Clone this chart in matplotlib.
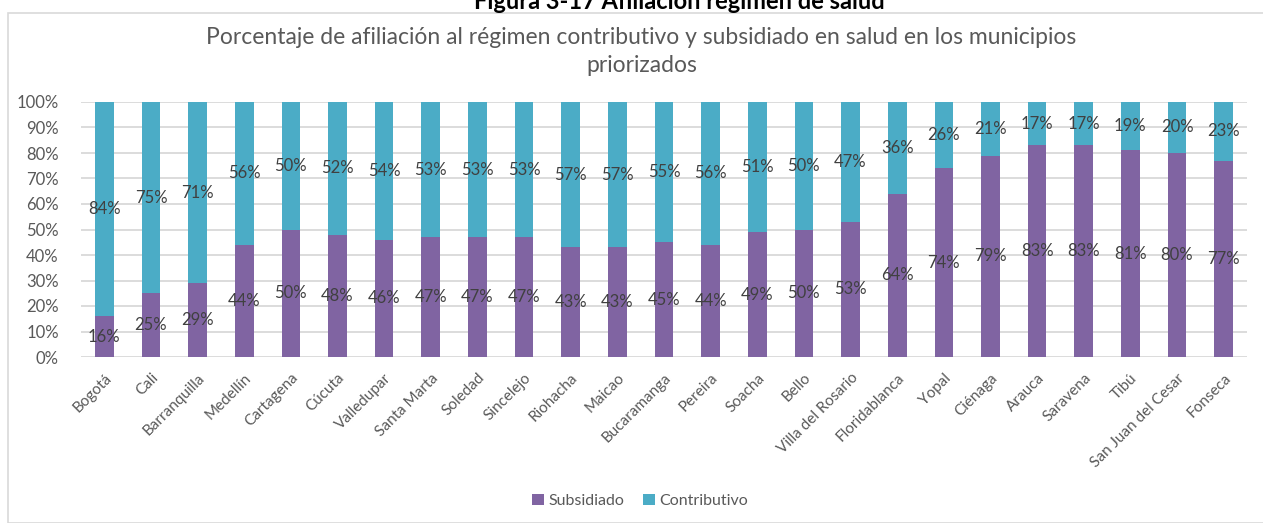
import numpy as np
import matplotlib
matplotlib.use("Agg")
import matplotlib.pyplot as plt
from matplotlib.patches import Rectangle

plt.rcParams['font.family'] = ['Lato', 'DejaVu Sans']

# datos
municipios = ['Bogotá', 'Cali', 'Barranquilla', 'Medellín', 'Cartagena', 'Cúcuta',
              'Valledupar', 'Santa Marta', 'Soledad', 'Sincelejo', 'Riohacha', 'Maicao',
              'Bucaramanga', 'Pereira', 'Soacha', 'Bello', 'Villa del Rosario',
              'Floridablanca', 'Yopal', 'Ciénaga', 'Arauca', 'Saravena', 'Tibú',
              'San Juan del Cesar', 'Fonseca']
subsidiado = [16, 25, 29, 44, 50, 48, 46, 47, 47, 47, 43, 43, 45, 44, 49, 50, 53,
              64, 74, 79, 83, 83, 81, 80, 77]
contributivo = [84, 75, 71, 56, 50, 52, 54, 53, 53, 53, 57, 57, 55, 56, 51, 50, 47,
                36, 26, 21, 17, 17, 19, 20, 23]

c_sub = '#8064a2'
c_con = '#4bacc6'
gris = '#595959'

fig = plt.figure(figsize=(12.63, 5.23), dpi=100)
W, H = 1263, 523

# marco del grafico
fig.patches.append(Rectangle((8 / W, 0), 1.2, 1 - 13 / H, transform=fig.transFigure,
                             fill=False, edgecolor='#d9d9d9', linewidth=1.2))

# titulo de la figura (cortado arriba, como en el original)
fig.text(0.538, 1 - 9 / H, 'Figura 3-17 Afiliación régimen de salud', ha='center',
         va='baseline', fontsize=17, fontweight='bold', color='black')

fig.text(0.508, 1 - 38 / H, 'Porcentaje de afiliación al régimen contributivo y subsidiado en salud en los municipios',
         ha='center', va='center', fontsize=16.5, color=gris)
fig.text(0.508, 1 - 66 / H, 'priorizados', ha='center', va='center', fontsize=16.5, color=gris)

ax = fig.add_axes([81 / W, 1 - 357 / H, (1247 - 81) / W, (357 - 102) / H])

x = np.arange(len(municipios))
sub = np.array(subsidiado)
con = np.array(contributivo)
ax.bar(x, sub, width=0.4, color=c_sub, label='Subsidiado', zorder=3)
ax.bar(x, con, width=0.4, bottom=sub, color=c_con, label='Contributivo', zorder=3)

for i in x:
    ax.text(i, sub[i] / 2, f'{sub[i]}%', ha='center', va='center', fontsize=12,
            color='#404040', zorder=4)
    ax.text(i, sub[i] + con[i] / 2, f'{con[i]}%', ha='center', va='center', fontsize=12,
            color='#404040', zorder=4)

ax.set_xlim(-0.5, len(municipios) - 0.5)
ax.set_ylim(0, 100)
ax.set_yticks(np.arange(0, 101, 10))
ax.set_yticklabels([f'{v}%' for v in range(0, 101, 10)])
ax.yaxis.grid(True, color='#d9d9d9', linewidth=1.3, zorder=0)
for s in ax.spines.values():
    s.set_visible(False)
ax.tick_params(axis='both', length=0, labelsize=12, labelcolor=gris)
ax.tick_params(axis='y', pad=16)
ax.set_xticks(x)
ax.set_xticklabels(municipios, rotation=45, ha='right', rotation_mode='anchor', fontsize=11)
ax.tick_params(axis='x', pad=10)

fig.legend(loc='center', bbox_to_anchor=(0.507, 1 - 501 / H), ncol=2, frameon=False,
           fontsize=11.5, labelcolor=gris, handlelength=0.7, handleheight=0.7,
           handletextpad=0.3, columnspacing=1.2)

fig.savefig('out.png', dpi=100)
